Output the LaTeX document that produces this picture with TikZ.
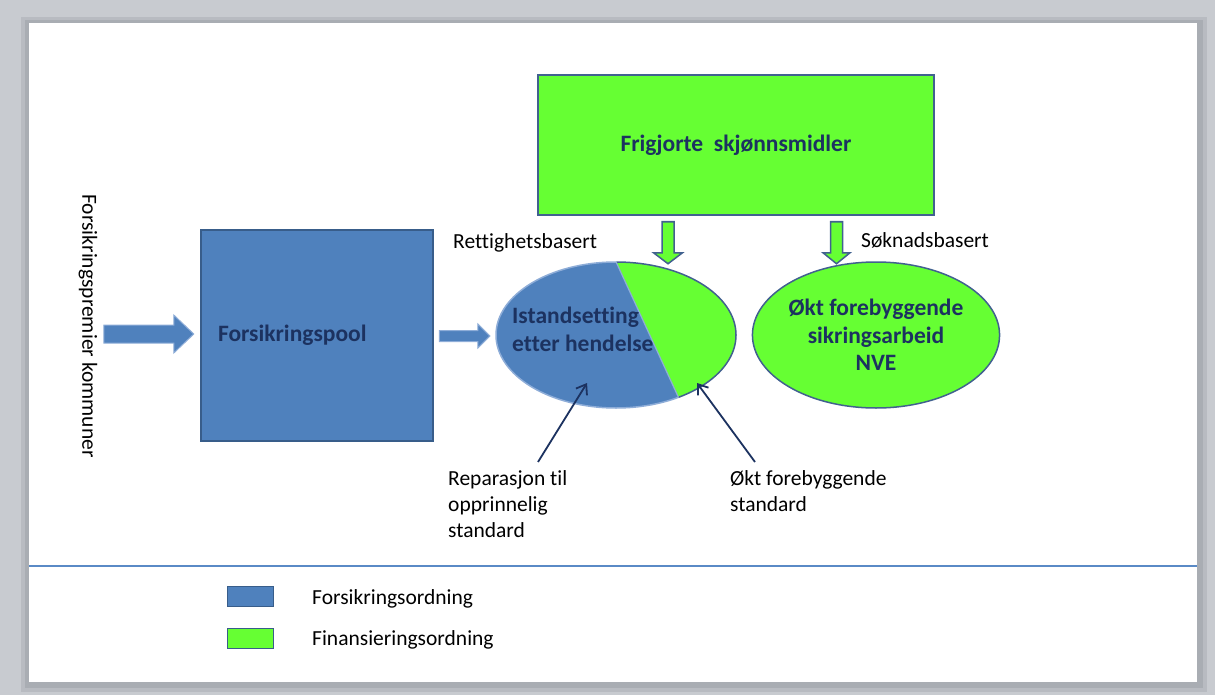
\documentclass[tikz,border=0pt]{standalone}
\usepackage{fontspec}
\setmainfont{Carlito}[Ligatures=NoCommon]
\usetikzlibrary{shapes.geometric,calc,arrows.meta}
\definecolor{bakgrunn}{HTML}{C8CBD0}
\definecolor{skygge}{HTML}{A9ADB3}
\definecolor{poolblaa}{HTML}{4F81BD}
\definecolor{kant}{HTML}{385D8A}
\definecolor{lysblaa}{HTML}{8EADD8}
\definecolor{gronn}{HTML}{66FF33}
\definecolor{gronnkant}{HTML}{41618F}
\definecolor{navy}{HTML}{1C3260}
\definecolor{skille}{HTML}{5A8AC6}
\tikzset{
  tekst/.style={font=\fontsize{21.5}{26}\selectfont, align=left, inner sep=0pt},
  fet/.style={font=\fontsize{23.5}{28}\selectfont\bfseries, text=navy},
  hpil/.style n args={3}{to path={let \p1=(\tikztostart), \p2=(\tikztotarget) in
    (\x1,\y1+#1) -- (\x2-#3,\y1+#1) -- (\x2-#3,\y1+#2) -- (\x2,\y1)
    -- (\x2-#3,\y1-#2) -- (\x2-#3,\y1-#1) -- (\x1,\y1-#1) -- cycle}},
  vpil/.style n args={3}{to path={let \p1=(\tikztostart), \p2=(\tikztotarget) in
    (\x1-#1,\y1) -- (\x1-#1,\y2+#3) -- (\x1-#2,\y2+#3) -- (\x1,\y2)
    -- (\x1+#2,\y2+#3) -- (\x1+#1,\y2+#3) -- (\x1+#1,\y1) -- cycle}},
  blaapil/.style={fill=poolblaa, draw=lysblaa, line width=1pt},
  gronnpil/.style={fill=gronn, draw=gronnkant, line width=1.5pt},
  peker/.style={draw=navy, line width=1.8pt, -{Straight Barb[length=9pt,width=13pt]}},
}
\begin{document}
\begin{tikzpicture}[x=1pt,y=-1pt]
  \useasboundingbox (0,0) rectangle (1215,695);
  % side og skygge
  \fill[bakgrunn] (0,0) rectangle (1215,695);
  \fill[skygge, opacity=.5] (21,17) rectangle (1207,692);
  \fill[skygge] (25,20) rectangle (1203,688);
  \fill[white] (29,23) rectangle (1197,682);
  \draw[skille, line width=2pt] (29,566) -- (1197,566);

  \node[tekst, rotate=-90] (premie) at (88,326) {Forsikringspremier kommuner};
  \node[fill=poolblaa, draw=kant, line width=2.5pt, minimum width=232pt,
    minimum height=211pt, text width=198pt, inner xsep=17pt, align=left, fet]
    (pool) at (317,335.5) {Forsikringspool};
  \node[ellipse, fill=poolblaa, minimum width=240pt, minimum height=146pt,
    inner sep=0pt] (isd) at (616,335) {};
  \begin{scope}
    \clip (611,250) -- (688.5,420) -- (760,420) -- (760,250) -- cycle;
    \fill[gronn] (isd.center) ellipse [x radius=120, y radius=73];
    \draw[gronnkant, line width=1.5pt] (isd.center) ellipse [x radius=120, y radius=73];
  \end{scope}
  \begin{scope}
    \clip (611,250) -- (688.5,420) -- (480,420) -- (480,250) -- cycle;
    \draw[lysblaa, line width=1.5pt] (isd.center) ellipse [x radius=120, y radius=73];
  \end{scope}
  \draw[lysblaa, line width=1.2pt] (isd.north) -- (isd.-45);
  \node[fet, align=left, inner sep=0pt, anchor=west] (isdtekst) at (512,329)
    {Istandsetting\\etter hendelse};
  \node[tekst, anchor=west] (rett) at (453,243) {Rettighetsbasert};

  \node[fill=gronn, draw=gronnkant, line width=1.5pt, minimum width=396pt,
    minimum height=140pt, fet] (frig) at (736,145) {Frigjorte~ skjønnsmidler};
  \node[ellipse, fill=gronn, draw=gronnkant, line width=1.5pt, minimum width=241pt,
    minimum height=146pt, inner sep=0pt, align=center, fet,
    font=\fontsize{23.5}{27.5}\selectfont\bfseries] (sikring) at (876,335)
    {Økt forebyggende\\sikringsarbeid\\NVE};
  \node[tekst, anchor=west] (sok) at (861,240) {Søknadsbasert};

  \node[tekst, anchor=north west] (rep) at (448,470)
    {Reparasjon til\\opprinnelig\\standard};
  \node[tekst, anchor=north west] (okt) at (730,470)
    {Økt forebyggende\\standard};

  % piler
  \draw[blaapil, hpil={9pt}{19pt}{20pt}] ($(pool.west)+(-96,-1.5)$) to ($(pool.west)+(-6,-1.5)$);
  \draw[blaapil, hpil={5.5pt}{12pt}{12pt}] ($(pool.east)+(5,0.5)$) to ($(isd.west)+(-6,1)$);
  \draw[gronnpil, vpil={6pt}{14.5pt}{11pt}] ($(frig.south)+(-68,6)$) to ($(frig.south)+(-68,48)$);
  \draw[gronnpil, vpil={6pt}{13.5pt}{11pt}] ($(frig.south)+(100.5,6)$) to ($(frig.south)+(100.5,48)$);
  \draw[peker] ($(rep.north west)+(90,-8)$) -- ($(isd.center)+(-29,48)$);
  \draw[peker] ($(okt.north west)+(25,-8)$) -- ($(isd.center)+(81,48)$);

  % tegnforklaring
  \node[fill=poolblaa, draw=kant, line width=1.5pt, minimum width=46pt,
    minimum height=20pt] (legblaa) at (250.5,596.5) {};
  \node[fill=gronn, draw=kant, line width=1.5pt, minimum width=46pt,
    minimum height=20pt] (leggronn) at (250.5,638.5) {};
  \node[tekst, anchor=west] (legtekst1) at (312,599) {Forsikringsordning};
  \node[tekst, anchor=west] (legtekst2) at (312,640) {Finansieringsordning};
\end{tikzpicture}
\end{document}
